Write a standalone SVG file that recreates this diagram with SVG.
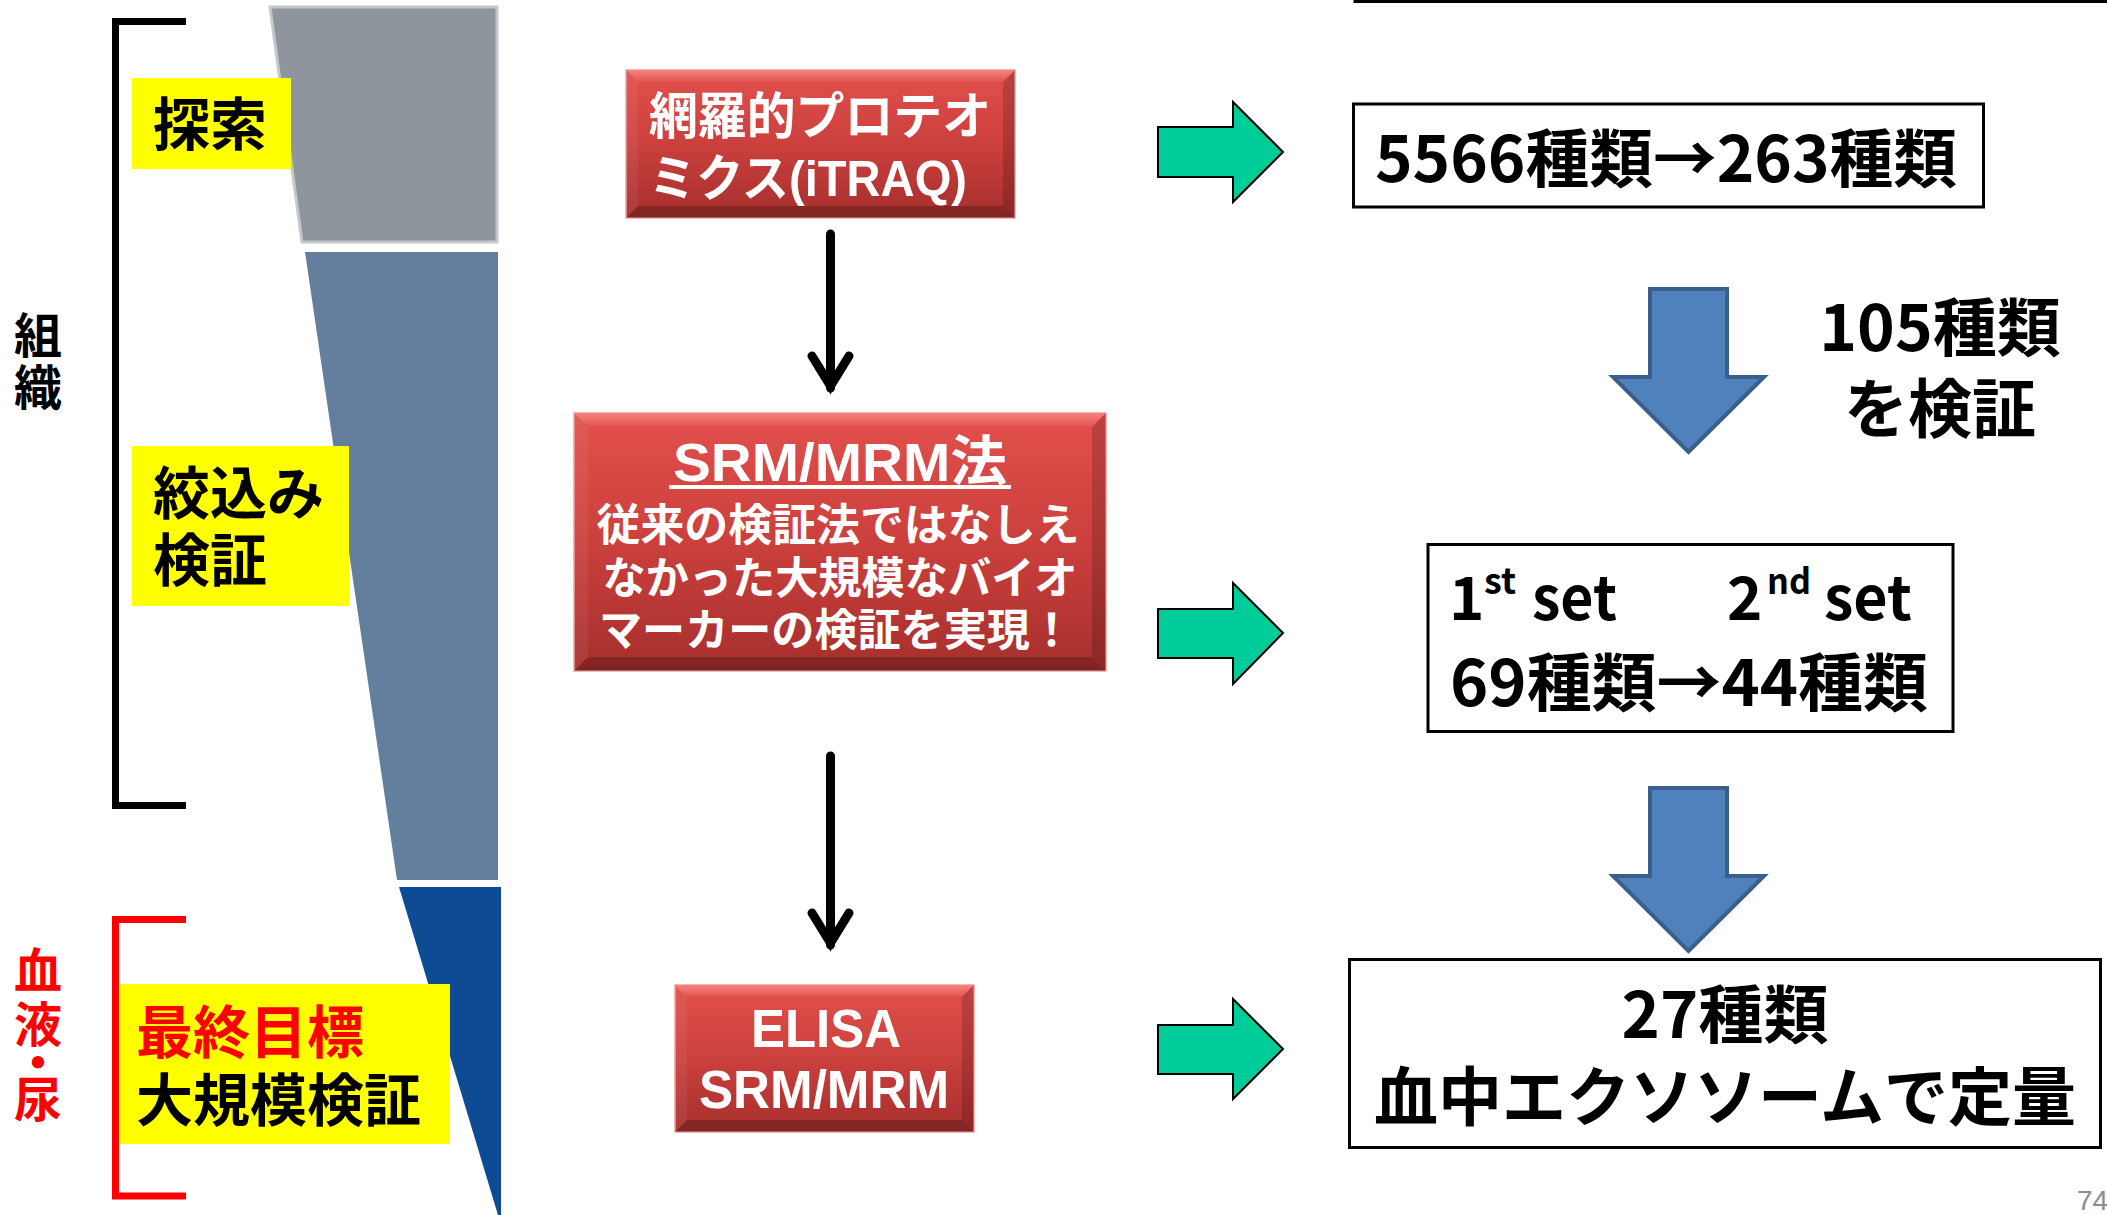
<svg xmlns="http://www.w3.org/2000/svg" width="2107" height="1215" viewBox="0 0 2107 1215">
<defs>
<linearGradient id="redFill" x1="0" y1="0" x2="0" y2="1">
<stop offset="0" stop-color="#e2504c"/>
<stop offset="0.5" stop-color="#cb403d"/>
<stop offset="1" stop-color="#a62f2d"/>
</linearGradient>
<linearGradient id="bevTop" x1="0" y1="0" x2="0" y2="1">
<stop offset="0" stop-color="#f6857f"/>
<stop offset="1" stop-color="#e3524d"/>
</linearGradient>
</defs>
<style>
.jp{font-family:"Noto Sans CJK JP","Noto Sans",sans-serif;font-weight:700}
.vt{writing-mode:vertical-rl}
.wt{font-family:"Liberation Sans","Noto Sans CJK JP",sans-serif;font-weight:700;fill:#ffffff}
.yl{fill:#ffff00}
.box{fill:#ffffff;stroke:#000000;stroke-width:3}
.red{fill:url(#redFill);stroke:#eaa3a1;stroke-width:1.5}
.bt{fill:url(#bevTop)}
.bl{fill:#ffffff;fill-opacity:0.06}
.br{fill:#000000;fill-opacity:0.16}
.bb{fill:#000000;fill-opacity:0.22}
.green{fill:#00cc99;stroke:#000000;stroke-width:2}
.blue{fill:#4f81bd;stroke:#3a5f8b;stroke-width:4}
.conn{fill:none;stroke:#000000;stroke-width:9;stroke-linecap:round;stroke-linejoin:miter;stroke-miterlimit:10}
.brk{fill:none;stroke-width:7;stroke-linejoin:miter}
</style>
<rect x="0" y="0" width="2107" height="1215" fill="#ffffff"/>

<g id="funnel">
<polygon points="270,7 497,7 497,242 302,242" fill="#8f959c" stroke="#c4c7cb" stroke-width="3"/>
<polygon points="305,252 498,252 498,880 397,880" fill="#647f9d"/>
<polygon points="399,887 501,887 501,1215 498,1215" fill="#0d4b95"/>
</g>

<g id="bracket-tissue">
<path class="brk" stroke="#000000" d="M186,21.5 H115.5 V805.5 H186"/>
<text class="jp vt" x="38" font-size="48" fill="#000000"><tspan y="311">組</tspan><tspan y="363">織</tspan></text>
</g>

<g id="bracket-blood">
<path class="brk" stroke="#ff0000" d="M186,919.5 H115.5 V1196 H186"/>
<text class="jp vt" x="38" font-size="48" fill="#ff0000"><tspan y="946">血</tspan><tspan y="1000">液</tspan><tspan y="1038">・</tspan><tspan y="1075">尿</tspan></text>
</g>

<g id="label-explore">
<rect class="yl" x="132" y="78" width="159" height="91"/>
<text class="jp" x="153" y="145" font-size="57" fill="#000000">探索</text>
</g>

<g id="label-narrow">
<rect class="yl" x="132" y="446" width="217" height="160"/>
<text class="jp" font-size="57" fill="#000000"><tspan x="153" y="514">絞込み</tspan><tspan x="153" y="581">検証</tspan></text>
</g>

<g id="label-final">
<rect class="yl" x="120" y="984" width="330" height="160"/>
<text class="jp" font-size="57" fill="#000000"><tspan x="136" y="1053" fill="#ff0000">最終目標</tspan><tspan x="136" y="1121">大規模検証</tspan></text>
</g>

<g id="node-itraq">
<rect class="red" x="626" y="70" width="389" height="148"/>
<polygon class="bt" points="626,70 1015,70 1003,82 638,82"/>
<polygon class="bl" points="626,70 638,82 638,206 626,218"/>
<polygon class="br" points="1015,70 1015,218 1003,206 1003,82"/>
<polygon class="bb" points="626,218 1015,218 1003,206 638,206"/>
<text class="wt" x="649" y="134" font-size="50" textLength="342" lengthAdjust="spacingAndGlyphs">網羅的プロテオ</text>
<text class="wt" x="649" y="196" font-size="50" textLength="318" lengthAdjust="spacingAndGlyphs">ミクス(iTRAQ)</text>
</g>

<g id="node-srm">
<rect class="red" x="574" y="413" width="532" height="258"/>
<polygon class="bt" points="574,413 1106,413 1092,427 588,427"/>
<polygon class="bl" points="574,413 588,427 588,657 574,671"/>
<polygon class="br" points="1106,413 1106,671 1092,657 1092,427"/>
<polygon class="bb" points="574,671 1106,671 1092,657 588,657"/>
<text class="wt" x="840" y="481" font-size="54" text-anchor="middle" textLength="334" lengthAdjust="spacingAndGlyphs">SRM/MRM法</text>
<rect x="669" y="485" width="342" height="4" fill="#ffffff"/>
<text class="wt" x="838" y="541" font-size="44" text-anchor="middle" textLength="483" lengthAdjust="spacingAndGlyphs">従来の検証法ではなしえ</text>
<text class="wt" x="840" y="594" font-size="44" text-anchor="middle" textLength="475" lengthAdjust="spacingAndGlyphs">なかった大規模なバイオ</text>
<text class="wt" x="836" y="646" font-size="44" text-anchor="middle" textLength="474" lengthAdjust="spacingAndGlyphs">マーカーの検証を実現！</text>
</g>

<g id="node-elisa">
<rect class="red" x="675" y="985" width="299" height="147"/>
<polygon class="bt" points="675,985 974,985 962,997 687,997"/>
<polygon class="bl" points="675,985 687,997 687,1120 675,1132"/>
<polygon class="br" points="974,985 974,1132 962,1120 962,997"/>
<polygon class="bb" points="675,1132 974,1132 962,1120 687,1120"/>
<text class="wt" x="826" y="1047" font-size="54" text-anchor="middle" textLength="150" lengthAdjust="spacingAndGlyphs">ELISA</text>
<text class="wt" x="824" y="1108" font-size="54" text-anchor="middle" textLength="250" lengthAdjust="spacingAndGlyphs">SRM/MRM</text>
</g>

<g id="node-top-partial">
<rect class="box" x="1355" y="-50" width="800" height="51.5"/>
</g>

<g id="node-5566">
<rect class="box" x="1353.5" y="104" width="630" height="103"/>
<text class="jp" x="1666" y="182" font-size="64" text-anchor="middle" textLength="582" lengthAdjust="spacingAndGlyphs">5566種類→263種類</text>
</g>

<g id="label-105">
<text class="jp" font-size="64" text-anchor="middle"><tspan x="1940" y="351">105種類</tspan><tspan x="1940" y="432">を検証</tspan></text>
</g>

<g id="node-sets">
<rect class="box" x="1428" y="544.5" width="525" height="187"/>
<text class="jp" x="1449" y="620" font-size="60">1</text>
<text class="jp" x="1484" y="594" font-size="36">st</text>
<text class="jp" x="1532" y="620" font-size="60" textLength="85" lengthAdjust="spacingAndGlyphs">set</text>
<text class="jp" x="1727" y="620" font-size="60">2</text>
<text class="jp" x="1767" y="594" font-size="36" textLength="44" lengthAdjust="spacingAndGlyphs">nd</text>
<text class="jp" x="1824" y="620" font-size="60" textLength="88" lengthAdjust="spacingAndGlyphs">set</text>
<text class="jp" x="1450" y="706" font-size="64" textLength="478" lengthAdjust="spacingAndGlyphs">69種類→44種類</text>
</g>

<g id="node-27">
<rect class="box" x="1349.5" y="959.5" width="751" height="188"/>
<text class="jp" x="1725" y="1038" font-size="64" text-anchor="middle" textLength="207" lengthAdjust="spacingAndGlyphs">27種類</text>
<text class="jp" x="1725" y="1120" font-size="64" text-anchor="middle" textLength="702" lengthAdjust="spacingAndGlyphs">血中エクソソームで定量</text>
</g>

<g id="connectors">
<path class="conn" d="M830.5,234 V388 M812,356 L830.5,386 L849,356"/>
<path class="conn" d="M830.5,756 V945 M812,913 L830.5,943 L849,913"/>
<polygon class="green" points="1158,127 1233,127 1233,102 1283,152 1233,202 1233,177 1158,177"/>
<polygon class="green" points="1158,609 1233,609 1233,583 1283,633 1233,684 1233,658 1158,658"/>
<polygon class="green" points="1158,1025 1233,1025 1233,999 1283,1049 1233,1099 1233,1074 1158,1074"/>
<polygon class="blue" points="1650,289 1727,289 1727,377 1764,377 1688.5,452 1613,377 1650,377"/>
<polygon class="blue" points="1650,788 1727,788 1727,876 1764,876 1688.5,951 1613,876 1650,876"/>
</g>

<g id="page-number">
<text x="2077" y="1210" font-family="Liberation Sans, sans-serif" font-size="28" fill="#8c8c8c">74</text>
</g>
</svg>
